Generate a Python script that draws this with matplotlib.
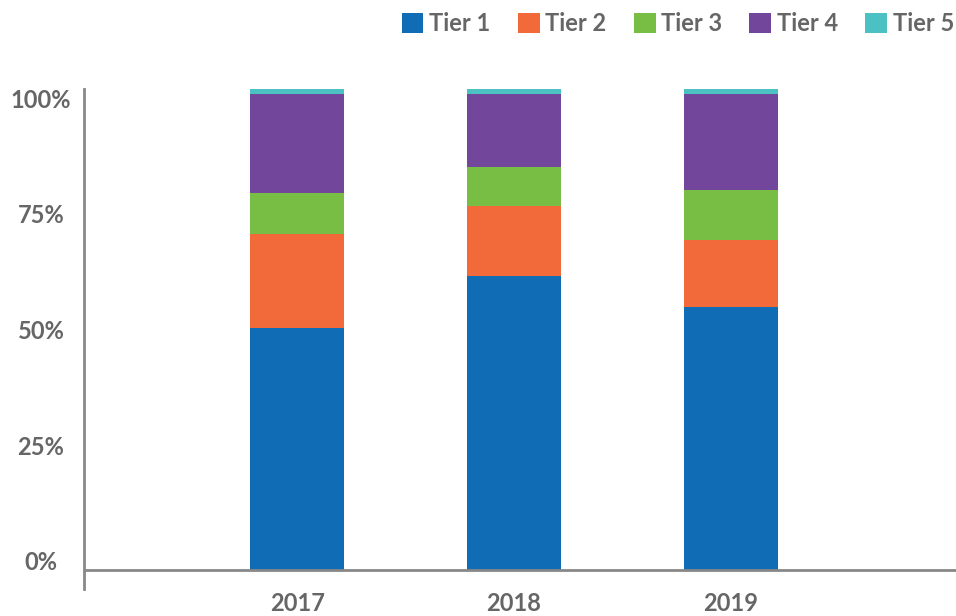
import matplotlib.pyplot as plt

plt.rcParams['font.family'] = ['Lato', 'DejaVu Sans']

years = ['2017', '2018', '2019']
tier_names = ['Tier 1', 'Tier 2', 'Tier 3', 'Tier 4', 'Tier 5']
tier1 = [52.4, 63.7, 56.9]
tier2 = [20.3, 15.1, 14.5]
tier3 = [8.9, 8.4, 10.8]
tier4 = [21.4, 15.8, 20.8]
tier5 = [1.1, 1.1, 1.1]
colors = ['#0F6CB5', '#F26A3A', '#78BE45', '#72469A', '#4BC1C3']

grey = '#666666'
axis_grey = '#888888'

fig = plt.figure(figsize=(9.56, 6.16), dpi=100)
ax = fig.add_axes([84/956, 27/616, 872/956, 500/616])

x = list(range(len(years)))
bottom = [0, 0, 0]
for name, vals, col in zip(tier_names, [tier1, tier2, tier3, tier4, tier5], colors):
    ax.bar(x, vals, width=0.434, bottom=bottom, color=col, label=name)
    bottom = [b + v for b, v in zip(bottom, vals)]

ax.set_xlim(-0.984, 3.04)
ax.set_ylim(-4.1, 104.1)

for s in ['top', 'right', 'bottom']:
    ax.spines[s].set_visible(False)
ax.spines['left'].set_color(axis_grey)
ax.spines['left'].set_linewidth(2)
ax.axhline(0, color=axis_grey, lw=2, zorder=3)

ax.set_yticks([0, 25, 50, 75, 100])
ax.set_yticklabels(['0%', '25%', '50%', '75%', '100%'])
ax.set_xticks(x)
ax.set_xticklabels(years)
ax.tick_params(axis='both', length=0, labelsize=17, labelcolor=grey)
ax.tick_params(axis='y', pad=31)
ax.tick_params(axis='x', pad=2)
for lab in ax.get_yticklabels():
    lab.set_fontweight('bold')
    lab.set_ha('center')
    lab.set_va('baseline')
for lab in ax.get_xticklabels():
    lab.set_fontweight('bold')

leg = fig.legend(loc='upper right', bbox_to_anchor=(1.004, 0.99), ncol=5, frameon=False,
                 handlelength=0.93, handleheight=0.93, handletextpad=0.22,
                 columnspacing=1.17, borderpad=0.25, borderaxespad=0,
                 prop={'size': 17, 'weight': 'bold'})
for t in leg.get_texts():
    t.set_color(grey)

fig.savefig('out.png', dpi=100)
